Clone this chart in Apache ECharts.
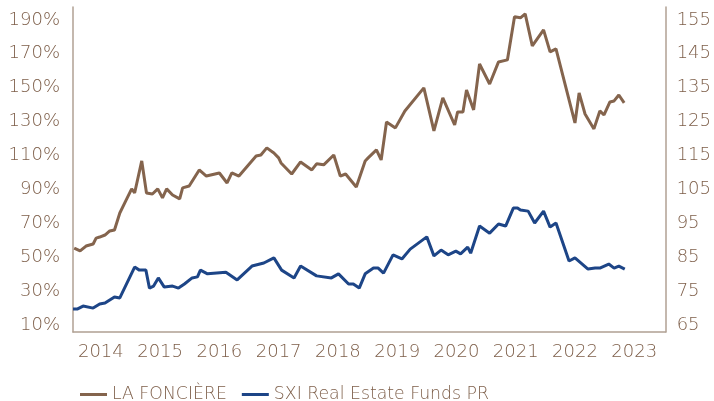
<!DOCTYPE html>
<html>
<head>
<meta charset="utf-8">
<script src="https://cdn.jsdelivr.net/npm/echarts@6/dist/echarts.min.js"></script>
<style>
  html, body { margin: 0; padding: 0; background: #fff; }
  #chart { width: 714px; height: 401px; }
</style>
</head>
<body>
<div id="chart"></div>
<script>
// decimal years
var foncDates = [2013.55, 2013.65, 2013.75, 2013.87, 2013.92, 2013.98, 2014.07, 2014.15, 2014.23, 2014.32,
  2014.42, 2014.52, 2014.57, 2014.69, 2014.77, 2014.87, 2014.96, 2015.04, 2015.11, 2015.21,
  2015.33, 2015.38, 2015.49, 2015.66, 2015.78, 2016.00, 2016.13, 2016.21, 2016.33, 2016.62,
  2016.70, 2016.80, 2016.92, 2017.00, 2017.04, 2017.22, 2017.37, 2017.56, 2017.64, 2017.76,
  2017.93, 2018.04, 2018.13, 2018.31, 2018.46, 2018.51, 2018.65, 2018.73, 2018.82, 2018.97,
  2019.13, 2019.45, 2019.62, 2019.77, 2019.97, 2020.02, 2020.11, 2020.17, 2020.29, 2020.39,
  2020.56, 2020.71, 2020.86, 2020.98, 2021.08, 2021.16, 2021.28, 2021.47, 2021.58, 2021.68,
  2022.00, 2022.07, 2022.17, 2022.32, 2022.42, 2022.49, 2022.59, 2022.66, 2022.74, 2022.83]
var foncValues = [55.4, 53.7, 56.6, 57.8, 61.3, 61.9, 63.1, 65.5, 66.1, 76.1,
  83.2, 90.3, 87.9, 106.8, 87.9, 87.3, 90.3, 85.0, 90.3, 86.7,
  84.4, 90.9, 92.0, 101.5, 97.9, 99.7, 93.8, 99.7, 97.9, 109.7,
  110.3, 114.5, 111.5, 108.6, 105.6, 99.1, 106.2, 101.5, 105.1, 104.5,
  110.3, 97.9, 99.1, 91.4, 106.8, 108.6, 113.3, 107.4, 129.8, 126.3,
  136.3, 149.9, 124.5, 144.0, 128.0, 135.7, 135.7, 148.7, 136.9, 164.0,
  152.2, 165.2, 166.4, 191.8, 191.2, 193.5, 174.7, 184.1, 171.1, 172.9,
  129.2, 146.9, 134.5, 125.7, 136.3, 133.9, 141.6, 142.2, 145.7, 141.0]

var sxiDates = [2013.53, 2013.60, 2013.70, 2013.87, 2013.98, 2014.07, 2014.23, 2014.32, 2014.57, 2014.65,
  2014.76, 2014.82, 2014.89, 2014.97, 2015.07, 2015.21, 2015.31, 2015.41, 2015.54, 2015.63,
  2015.68, 2015.80, 2016.11, 2016.30, 2016.55, 2016.75, 2016.92, 2017.05, 2017.26, 2017.37,
  2017.64, 2017.89, 2018.01, 2018.18, 2018.26, 2018.36, 2018.46, 2018.60, 2018.68, 2018.77,
  2018.93, 2019.08, 2019.22, 2019.50, 2019.62, 2019.74, 2019.86, 2019.99, 2020.07, 2020.19,
  2020.24, 2020.39, 2020.56, 2020.71, 2020.83, 2020.96, 2021.03, 2021.08, 2021.21, 2021.32,
  2021.47, 2021.58, 2021.68, 2021.90, 2022.00, 2022.22, 2022.34, 2022.42, 2022.57, 2022.66,
  2022.74, 2022.84]
var sxiValues = [69.7, 69.7, 70.6, 70.0, 71.2, 71.5, 73.3, 73.0, 82.1, 81.2,
  81.2, 75.9, 76.5, 78.9, 76.2, 76.5, 75.9, 77.1, 78.9, 79.2,
  81.2, 80.1, 80.6, 78.3, 82.4, 83.3, 84.8, 81.2, 78.9, 82.4,
  79.5, 78.9, 80.1, 77.1, 77.1, 75.9, 80.1, 81.8, 81.8, 80.3,
  85.7, 84.5, 87.4, 91.0, 85.4, 87.1, 85.7, 86.8, 86.0, 88.0,
  86.2, 94.2, 92.1, 94.8, 94.2, 99.5, 99.5, 98.9, 98.6, 95.1,
  98.6, 93.9, 95.1, 83.9, 84.8, 81.5, 81.8, 81.8, 83.0, 81.8,
  82.4, 81.5]

var yearTicks = [2014, 2015, 2016, 2017, 2018, 2019, 2020, 2021, 2022, 2023]
var leftTicks = [10, 30, 50, 70, 90, 110, 130, 150, 170, 190]
var rightTicks = [65, 75, 85, 95, 105, 115, 125, 135, 145, 155]

var brown = '#84644d'
var navy = '#1d4587'
var axisColor = '#b0a093'
var labelColor = '#7d5e49'
var font = 'DejaVu Sans'
var weight = 200
var labelSize = 18

function pairs(xs, ys) {
  return xs.map(function (x, i) { return [x, ys[i]] })
}

var chart = echarts.init(document.getElementById('chart'), null, { renderer: 'canvas' })
chart.setOption({
  animation: false,
  textStyle: { fontFamily: font, fontWeight: weight },
  grid: { left: 73, right: 45, top: 7, bottom: 69, containLabel: false },
  legend: {
    top: 381,
    left: 75,
    icon: 'rect',
    itemWidth: 27,
    itemHeight: 3,
    itemGap: 15,
    textStyle: { color: labelColor, fontSize: 17.3, fontFamily: font, fontWeight: weight },
    data: ['LA FONCIÈRE', 'SXI Real Estate Funds PR']
  },
  xAxis: {
    type: 'value',
    min: 2013.53,
    max: 2023.53,
    axisLine: { show: true, lineStyle: { color: axisColor, width: 1.5 } },
    axisTick: { show: false },
    splitLine: { show: false },
    axisLabel: {
      customValues: yearTicks,
      color: labelColor,
      fontSize: labelSize,
      fontWeight: weight,
      margin: 11,
      formatter: function (v) { return String(v) }
    }
  },
  yAxis: [{
    type: 'value',
    min: 5.9,
    max: 197.6,
    axisLine: { show: true, lineStyle: { color: axisColor, width: 1.5 } },
    axisTick: { show: false },
    splitLine: { show: false },
    axisLabel: {
      customValues: leftTicks,
      color: labelColor,
      fontSize: labelSize,
      fontWeight: weight,
      margin: 13,
      formatter: function (v) { return v + '%' }
    }
  }, {
    type: 'value',
    min: 62.95,
    max: 158.8,
    position: 'right',
    axisLine: { show: true, lineStyle: { color: axisColor, width: 1.5 } },
    axisTick: { show: false },
    splitLine: { show: false },
    axisLabel: {
      customValues: rightTicks,
      color: labelColor,
      fontSize: labelSize,
      fontWeight: weight,
      margin: 11
    }
  }],
  series: [{
    name: 'LA FONCIÈRE',
    type: 'line',
    yAxisIndex: 0,
    showSymbol: false,
    lineStyle: { color: brown, width: 3 },
    itemStyle: { color: brown },
    data: pairs(foncDates, foncValues)
  }, {
    name: 'SXI Real Estate Funds PR',
    type: 'line',
    yAxisIndex: 1,
    showSymbol: false,
    lineStyle: { color: navy, width: 3 },
    itemStyle: { color: navy },
    data: pairs(sxiDates, sxiValues)
  }]
})
</script>
</body>
</html>
